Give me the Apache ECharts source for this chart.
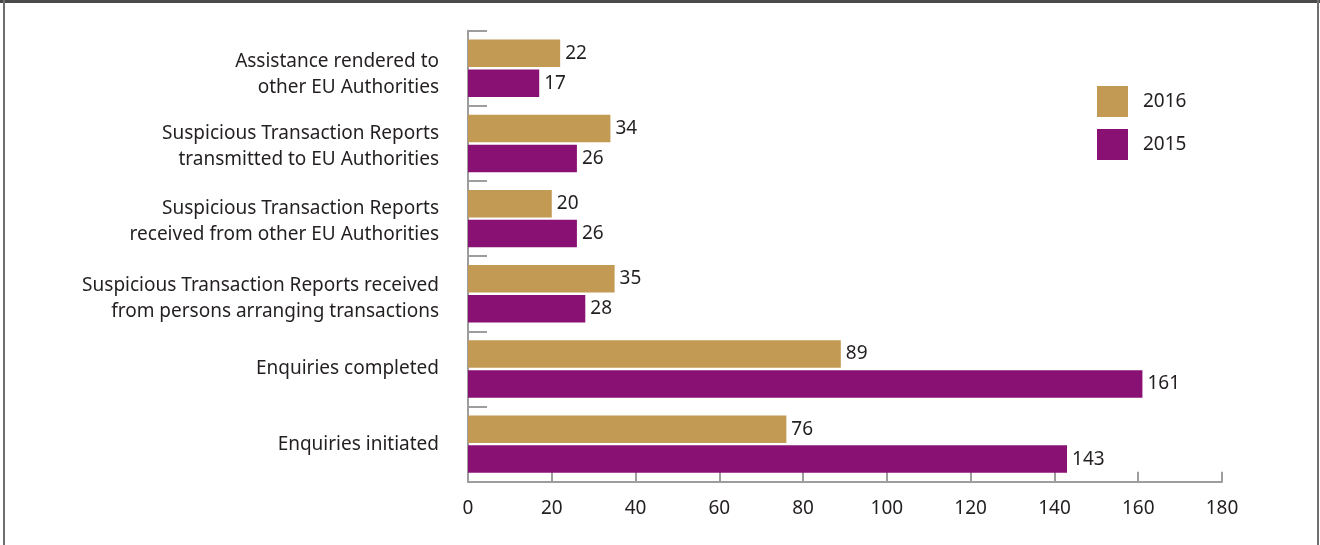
<!DOCTYPE html>
<html>
<head>
<meta charset="utf-8">
<script src="https://cdn.jsdelivr.net/npm/echarts@6/dist/echarts.min.js"></script>
<style>
  html, body { margin: 0; padding: 0; background: #ffffff; }
  #chart { width: 1320px; height: 545px; }
</style>
</head>
<body>
<div id="chart"></div>
<script>
const categories = [
  'Assistance rendered to\nother EU Authorities',
  'Suspicious Transaction Reports\ntransmitted to EU Authorities',
  'Suspicious Transaction Reports\nreceived from other EU Authorities',
  'Suspicious Transaction Reports received\nfrom persons arranging transactions',
  'Enquiries completed',
  'Enquiries initiated'
];
const values2016 = [22, 34, 20, 35, 89, 76];
const values2015 = [17, 26, 26, 28, 161, 143];
const seriesNames = ['2016', '2015'];
const xTicks = { min: 0, max: 180, interval: 20 };

const FONT = '"Noto Sans", sans-serif';
const TEXT = '#231f20';
const AXIS = '#9d9d9d';
const FS = 19;
// small downward nudges of the wrapped category labels (layout only)
const labelNudge = [6, 3, 3, 5, 0, 0];

const rich = { t: { fontFamily: FONT, fontSize: FS, color: TEXT, lineHeight: 26, align: 'right' } };
[3, 5, 6].forEach(n => { rich['s' + n] = { fontSize: 1, lineHeight: n * 2 }; });

const chart = echarts.init(document.getElementById('chart'), null, { renderer: 'canvas' });
chart.setOption({
  backgroundColor: '#ffffff',
  animation: false,
  textStyle: { fontFamily: FONT },
  graphic: [
    { type: 'rect', shape: { x: 0, y: 0, width: 1320, height: 3 }, style: { fill: '#4a4a4a' }, silent: true },
    { type: 'rect', shape: { x: 3, y: 0, width: 2, height: 545 }, style: { fill: '#6e6e6e' }, silent: true },
    { type: 'rect', shape: { x: 1317, y: 0, width: 2, height: 545 }, style: { fill: '#6e6e6e' }, silent: true }
  ],
  legend: {
    orient: 'vertical',
    left: 1092,
    top: 81,
    itemWidth: 31,
    itemHeight: 31,
    itemGap: 12,
    icon: 'rect',
    data: seriesNames,
    textStyle: { fontFamily: FONT, fontSize: FS, color: TEXT, padding: [0, 0, 0, 10] }
  },
  grid: {
    left: 468,
    right: 98,
    top: 30.7,
    bottom: 63.3,
    containLabel: false,
    outerBoundsMode: 'none'
  },
  xAxis: {
    type: 'value',
    min: xTicks.min,
    max: xTicks.max,
    interval: xTicks.interval,
    axisLine: { show: true, lineStyle: { color: AXIS, width: 2 } },
    axisTick: { show: true, inside: true, length: 10, lineStyle: { color: AXIS, width: 2 } },
    splitLine: { show: false },
    axisLabel: { fontFamily: FONT, fontSize: FS, color: TEXT, margin: 17.5 }
  },
  yAxis: {
    type: 'category',
    inverse: true,
    data: categories,
    axisLine: { show: true, lineStyle: { color: AXIS, width: 2 } },
    axisTick: { show: true, inside: true, length: 19, lineStyle: { color: AXIS, width: 2 } },
    axisLabel: {
      fontFamily: FONT, fontSize: FS, color: TEXT, margin: 29, lineHeight: 26, align: 'right',
      formatter: function (value, index) {
        const lines = value.split('\n').map(l => '{t|' + l + '}');
        const n = labelNudge[index] || 0;
        return (n ? '{s' + n + '| }\n' : '') + lines.join('\n');
      },
      rich: rich
    }
  },
  series: [
    {
      name: seriesNames[0],
      type: 'bar',
      data: values2016,
      barWidth: 27.5,
      barGap: '9%',
      itemStyle: { color: '#c29a53' },
      label: { show: true, position: 'right', distance: 5, fontFamily: FONT, fontSize: FS, color: TEXT }
    },
    {
      name: seriesNames[1],
      type: 'bar',
      data: values2015,
      barWidth: 27.5,
      barGap: '9%',
      itemStyle: { color: '#8a1174' },
      label: { show: true, position: 'right', distance: 5, fontFamily: FONT, fontSize: FS, color: TEXT }
    }
  ]
});
</script>
</body>
</html>
